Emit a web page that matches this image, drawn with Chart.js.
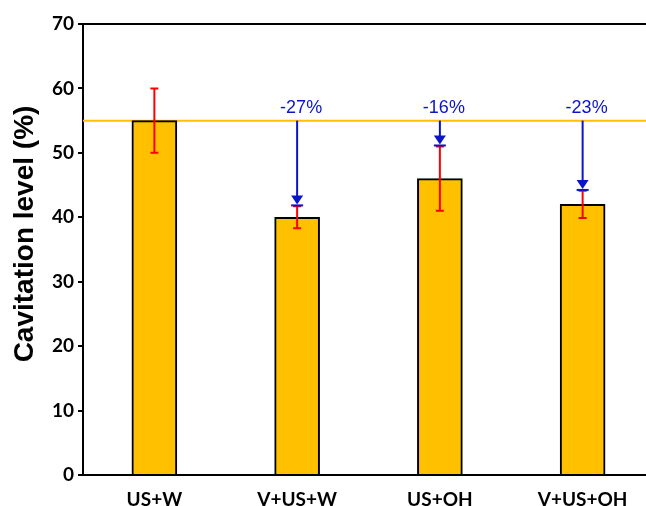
<!DOCTYPE html>
<html><head><meta charset="utf-8">
<script src="https://cdn.jsdelivr.net/npm/chart.js@4/dist/chart.umd.min.js"></script>
<style>html,body{margin:0;padding:0;background:#fff;overflow:hidden}#wrap{width:656px;height:506px}</style>
</head><body><div id="wrap"><canvas id="c" width="656" height="506"></canvas></div>
<script>
const categories = ['US+W', 'V+US+W', 'US+OH', 'V+US+OH'];
const cavitation = [55, 40, 46, 42];
const errLow = [50, 38.3, 41, 39.9];
const errHigh = [60, 41.7, 51, 44.1];
const referenceLevel = 55;
const arrowEnd = [null, 42.0, 51.3, 44.4];
const pctLabels = [null, '-27%', '-16%', '-23%'];
const yTicks = [0, 10, 20, 30, 40, 50, 60, 70];

const overlay = {
  id: 'overlay',
  beforeDatasetsDraw(chart) {
    const {ctx, chartArea, scales: {y}} = chart;
    const py = y.getPixelForValue(referenceLevel);
    ctx.save();
    ctx.strokeStyle = '#FFC000'; ctx.lineWidth = 2;
    ctx.beginPath(); ctx.moveTo(chartArea.left, py); ctx.lineTo(chartArea.right, py); ctx.stroke();
    ctx.strokeStyle = '#000'; ctx.lineWidth = 2;
    ctx.beginPath(); ctx.moveTo(chartArea.left - 1, chartArea.top); ctx.lineTo(chartArea.right, chartArea.top); ctx.stroke();
    ctx.restore();
  },
  afterDatasetsDraw(chart) {
    const {ctx, scales: {x, y}} = chart;
    ctx.save();
    // error bars
    ctx.strokeStyle = '#FF0000'; ctx.lineWidth = 2;
    categories.forEach((c, i) => {
      const px = x.getPixelForValue(i);
      const lo = y.getPixelForValue(errLow[i]), hi = y.getPixelForValue(errHigh[i]);
      ctx.beginPath();
      ctx.moveTo(px, lo); ctx.lineTo(px, hi);
      ctx.moveTo(px - 4, lo); ctx.lineTo(px + 4, lo);
      ctx.moveTo(px - 4, hi); ctx.lineTo(px + 4, hi);
      ctx.stroke();
    });
    // arrows and labels
    const ref = y.getPixelForValue(referenceLevel);
    categories.forEach((c, i) => {
      if (arrowEnd[i] == null) return;
      const px = x.getPixelForValue(i);
      const end = y.getPixelForValue(arrowEnd[i]);
      ctx.strokeStyle = '#0A14C8'; ctx.fillStyle = '#0A14C8'; ctx.lineWidth = 2;
      ctx.beginPath(); ctx.moveTo(px, ref); ctx.lineTo(px, end - 8); ctx.stroke();
      ctx.beginPath(); ctx.moveTo(px - 6, end - 9); ctx.lineTo(px + 6, end - 9); ctx.lineTo(px, end); ctx.closePath(); ctx.fill();
      ctx.beginPath(); ctx.moveTo(px - 6, end + 1); ctx.lineTo(px + 6, end + 1); ctx.stroke();
      ctx.font = '18px "Liberation Sans", Arial, sans-serif';
      ctx.textAlign = 'center'; ctx.textBaseline = 'alphabetic';
      ctx.fillText(pctLabels[i], px + 4, ref - 8);
    });
    // y title
    ctx.fillStyle = '#000';
    ctx.font = 'bold 28px "Liberation Sans", Arial, sans-serif';
    ctx.translate(25, 234); ctx.rotate(-Math.PI / 2);
    ctx.textAlign = 'center'; ctx.textBaseline = 'middle';
    ctx.fillText('Cavitation level (%)', 0, 0);
    ctx.restore();
  }
};

new Chart(document.getElementById('c'), {
  type: 'bar',
  data: {
    labels: categories,
    datasets: [{
      data: cavitation,
      backgroundColor: '#FFC000',
      borderColor: '#000',
      borderWidth: 2,
      borderSkipped: 'start',
      barThickness: 45
    }]
  },
  options: {
    responsive: false,
    animation: false,
    devicePixelRatio: 1,
    layout: {padding: {top: 24, right: 2, left: 0, bottom: 0}},
    plugins: {legend: {display: false}, tooltip: {enabled: false}},
    scales: {
      x: {
        offset: true,
        grid: {display: false},
        border: {display: true, color: '#000', width: 2},
        ticks: {color: '#000', font: {family: 'Lato', weight: 'bold', size: 19}, padding: 5},
        afterFit(s) { s.height = 31; }
      },
      y: {
        min: 0, max: 70,
        afterBuildTicks(s) { s.ticks = yTicks.map(v => ({value: v})); },
        grid: {drawOnChartArea: false, drawTicks: true, tickLength: 5, color: '#000', lineWidth: 2},
        border: {display: true, color: '#000', width: 2},
        ticks: {color: '#000', font: {family: 'Lato', weight: 'bold', size: 19}, padding: 4},
        afterFit(s) { s.width = 83; }
      }
    }
  },
  plugins: [overlay]
});
</script>
</body></html>
